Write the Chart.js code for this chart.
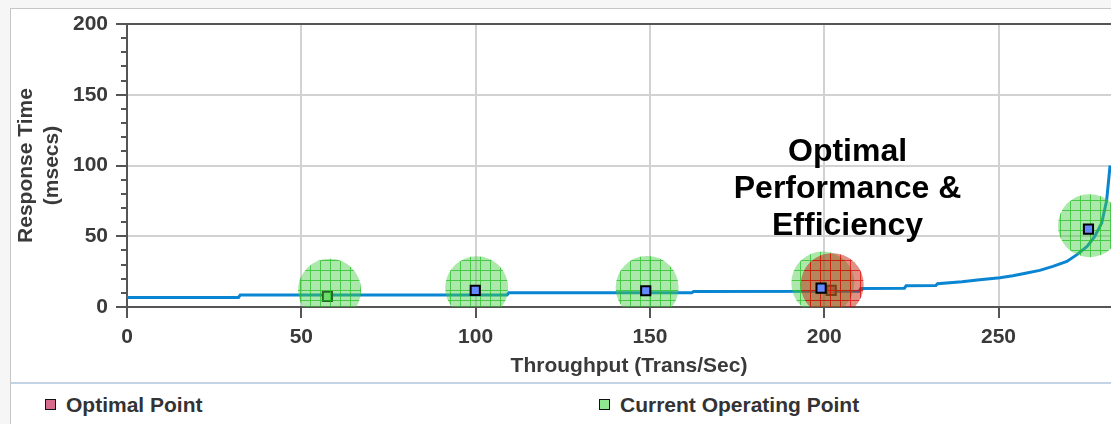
<!DOCTYPE html>
<html>
<head>
<meta charset="utf-8">
<title>Response Time vs Throughput</title>
<script src="https://cdn.jsdelivr.net/npm/chart.js@4.4.1/dist/chart.umd.min.js"></script>
<style>
  html, body { margin: 0; padding: 0; width: 1111px; height: 424px; overflow: hidden; background: #f6f6f6; }
  #panel { position: absolute; left: 10px; top: 8px; width: 1130px; height: 420px; background: #fff;
           border-left: 1px solid #c6c6c6; border-top: 1px solid #c6c6c6; }
  #chartBox { position: absolute; left: 0; top: 0; width: 1131px; height: 383px; }
  #legend { position: absolute; left: 11px; top: 382px; width: 1130px; height: 42px; background: #fff;
            border-top: 2px solid #c3d3e6; font-family: 'Liberation Sans', Arial, sans-serif; }
  .swatch { position: absolute; top: 15px; width: 9px; height: 9px; border: 1.5px solid #111; }
  .label { position: absolute; top: 9px; font-size: 21px; line-height: 24px; font-weight: bold; color: #333; white-space: nowrap; }
</style>
</head>
<body>
<div id="panel"></div>
<div id="chartBox"><canvas id="perfChart" width="1131" height="383"></canvas></div>
<div id="legend"></div>
<script>
// Response time curve (Trans/Sec -> msecs)
const curveX = [0, 32, 32.5, 109, 109.5, 162, 162.5, 210, 210.5, 223, 223.5, 232, 232.5, 239.5, 244.6, 250.4, 254.1, 258.1, 261.8, 265.6, 269.6, 272.5, 275.4, 277.6, 279.6, 281, 282];
const curveY = [6.8, 6.8, 8.5, 8.5, 10, 10, 11, 11.2, 13, 13.3, 15, 15.2, 16.5, 17.9, 19.3, 20.7, 22.1, 24, 25.9, 28.7, 32.2, 37, 42.8, 49.9, 59.4, 75, 100];

// measured points (blue squares)
const measuredX = [99.9, 148.8, 199.1, 275.8];
const measuredY = [11.7, 11.5, 13.4, 55.1];

// green halos round the operating points
const zoneX = [58.1, 100.3, 149.2, 199.6, 276.1];
const zoneY = [11.9, 13.6, 13.8, 16.9, 57.5];

// red halo round the optimal point
const optZoneX = [202.3];
const optZoneY = [15.8];

const optimalX = [202];
const optimalY = [11.7];
const currentX = [57.5];
const currentY = [7.5];

const xTicks = [0, 50, 100, 150, 200, 250];
const yTicks = [0, 50, 100, 150, 200];
const yMinorStep = 10;

const noteLines = ['Optimal', 'Performance &', 'Efficiency'];
const noteAt = [206.7, 83.2];

const legendLabels = ['Optimal Point', 'Current Operating Point'];
const legendLeft = [34, 588];

const FONT = "'Liberation Sans', Arial, sans-serif";
const pts = (xs, ys) => xs.map((x, i) => ({ x: x, y: ys[i] }));

// cross-hatched translucent fill
function hatch(fill, line) {
  const c = document.createElement('canvas');
  c.width = 10; c.height = 10;
  const g = c.getContext('2d');
  g.fillStyle = fill;
  g.fillRect(0, 0, 10, 10);
  g.fillStyle = line;
  g.fillRect(0, 0, 10, 1);
  g.fillRect(0, 1, 1, 9);
  return g.createPattern(c, 'repeat');
}
const greenHatch = hatch('rgba(70,205,70,0.45)', 'rgba(30,190,30,0.7)');
const redHatch = hatch('rgba(190,35,10,0.5)', 'rgba(230,0,0,0.7)');

// minor ticks on the y axis
const minorTicks = {
  id: 'minorTicks',
  afterDraw(chart) {
    const { ctx, scales: { y }, chartArea } = chart;
    ctx.save();
    ctx.strokeStyle = '#555';
    ctx.lineWidth = 2;
    for (let v = y.min; v <= y.max; v += yMinorStep) {
      if (yTicks.includes(v)) continue;
      const py = Math.round(y.getPixelForValue(v));
      ctx.beginPath();
      ctx.moveTo(chartArea.left - 6, py);
      ctx.lineTo(chartArea.left, py);
      ctx.stroke();
    }
    ctx.restore();
  }
};

// "Optimal Performance & Efficiency" label
const note = {
  id: 'note',
  afterDatasetsDraw(chart) {
    const { ctx, scales: { x, y } } = chart;
    const cx = x.getPixelForValue(noteAt[0]);
    const cy = y.getPixelForValue(noteAt[1]);
    ctx.save();
    ctx.font = 'bold 32px ' + FONT;
    ctx.fillStyle = '#000';
    ctx.textAlign = 'center';
    ctx.textBaseline = 'middle';
    noteLines.forEach((t, i) => ctx.fillText(t, cx, cy + (i - 1) * 37));
    ctx.restore();
  }
};

const tickFont = { family: FONT, size: 21, weight: 'bold' };

const chart = new Chart(document.getElementById('perfChart'), {
  type: 'scatter',
  data: {
    datasets: [
      {
        label: 'Measured',
        data: pts(measuredX, measuredY),
        pointStyle: 'rect',
        pointRadius: 6.5,
        backgroundColor: '#6489ff',
        borderColor: '#000',
        borderWidth: 2,
        order: 0
      },
      {
        label: 'Optimal Zone',
        data: pts(optZoneX, optZoneY),
        pointRadius: 31.5,
        backgroundColor: redHatch,
        borderWidth: 0,
        order: 1
      },
      {
        label: 'Operating Zone',
        data: pts(zoneX, zoneY),
        pointRadius: 31.5,
        backgroundColor: greenHatch,
        borderWidth: 0,
        order: 2
      },
      {
        label: 'Optimal Point',
        data: pts(optimalX, optimalY),
        pointStyle: 'rect',
        pointRadius: 6.5,
        backgroundColor: '#d66b8b',
        borderColor: '#111',
        borderWidth: 2,
        order: 3
      },
      {
        label: 'Current Operating Point',
        data: pts(currentX, currentY),
        pointStyle: 'rect',
        pointRadius: 6.5,
        backgroundColor: '#8fe88f',
        borderColor: '#111',
        borderWidth: 2,
        order: 4
      },
      {
        label: 'Response Time',
        data: pts(curveX, curveY),
        showLine: true,
        borderColor: '#0a85d1',
        borderWidth: 3,
        pointRadius: 0,
        order: 5
      }
    ]
  },
  options: {
    responsive: false,
    animation: false,
    events: [],
    layout: { autoPadding: false, padding: { left: 10, top: 24, right: 0, bottom: 0 } },
    plugins: {
      legend: { display: false },
      tooltip: { enabled: false }
    },
    scales: {
      x: {
        type: 'linear',
        min: 0,
        max: 288,
        afterBuildTicks: s => { s.ticks = xTicks.map(v => ({ value: v })); },
        afterFit: s => { s.height = 76; },
        grid: { color: '#d2d2d2', lineWidth: 2, tickLength: 11, tickColor: '#555', tickWidth: 2 },
        border: { color: '#555', width: 2 },
        ticks: { color: '#3a3a3a', font: tickFont, padding: 7, maxRotation: 0 },
        title: {
          display: true,
          text: 'Throughput (Trans/Sec)',
          color: '#3a3a3a',
          font: tickFont,
          padding: { top: 0, bottom: 4 }
        }
      },
      y: {
        type: 'linear',
        min: 0,
        max: 200,
        afterBuildTicks: s => { s.ticks = yTicks.map(v => ({ value: v })); },
        afterFit: s => { s.width = 117; },
        grid: {
          color: c => (c.tick && c.tick.value === 200 ? '#555' : '#d2d2d2'),
          lineWidth: 2,
          tickLength: 11,
          tickColor: '#555',
          tickWidth: 2
        },
        border: { color: '#555', width: 2 },
        ticks: { color: '#3a3a3a', font: tickFont, padding: 8 },
        title: {
          display: true,
          text: ['Response Time', '(msecs)'],
          color: '#3a3a3a',
          font: tickFont,
          padding: { top: 4, bottom: 0 }
        }
      }
    }
  },
  plugins: [minorTicks, note]
});

// legend panel below the chart
const legendEl = document.getElementById('legend');
legendLabels.forEach((name, i) => {
  const ds = chart.data.datasets.find(d => d.label === name);
  const sw = document.createElement('div');
  sw.className = 'swatch';
  sw.style.left = legendLeft[i] + 'px';
  sw.style.background = ds.backgroundColor;
  const lb = document.createElement('div');
  lb.className = 'label';
  lb.style.left = (legendLeft[i] + 21) + 'px';
  lb.textContent = name;
  legendEl.appendChild(sw);
  legendEl.appendChild(lb);
});
</script>
</body>
</html>
